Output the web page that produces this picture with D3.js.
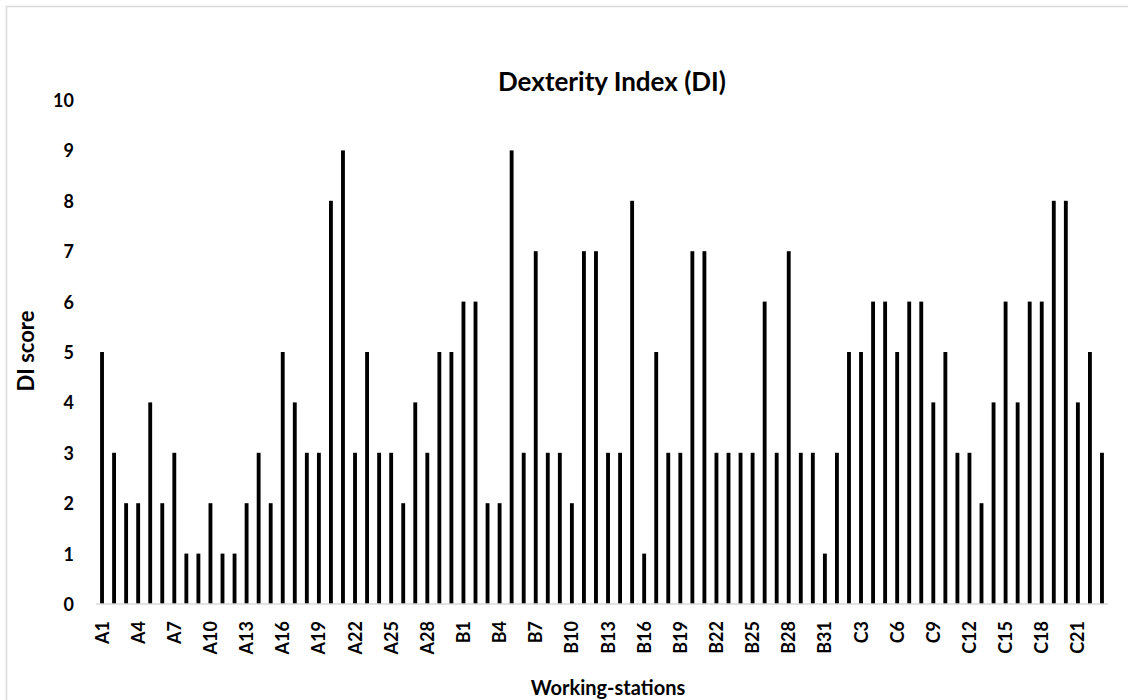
<!DOCTYPE html>
<html>
<head>
<meta charset="utf-8">
<script src="https://cdn.jsdelivr.net/npm/d3@7"></script>
<style>
  body { margin: 0; background: #fff; }
  text { font-family: Lato, "Open Sans", sans-serif; font-weight: bold; fill: #000; }
</style>
</head>
<body>
<svg id="chart" width="1128" height="700"></svg>
<script>
// stations per line
const groupA = d3.range(1, 31).map(i => "A" + i);
const groupB = d3.range(1, 32).map(i => "B" + i);
const groupC = d3.range(1, 24).map(i => "C" + i);
const stations = groupA.concat(groupB, groupC);

// DI score
const scoreA = [5, 3, 2, 2, 4, 2, 3, 1, 1, 2, 1, 1, 2, 3, 2, 5, 4, 3, 3, 8, 9, 3, 5, 3, 3, 2, 4, 3, 5, 5];
const scoreB = [6, 6, 2, 2, 9, 3, 7, 3, 3, 2, 7, 7, 3, 3, 8, 1, 5, 3, 3, 7, 7, 3, 3, 3, 3, 6, 3, 7, 3, 3, 1];
const scoreC = [3, 5, 5, 6, 6, 5, 6, 6, 4, 5, 3, 3, 2, 4, 6, 4, 6, 6, 8, 8, 4, 5, 3];
const scores = scoreA.concat(scoreB, scoreC);

const yTicks = [0, 1, 2, 3, 4, 5, 6, 7, 8, 9, 10];

const svg = d3.select("#chart");

// khung ngoai
svg.append("rect")
    .attr("x", 6.5).attr("y", 6.5)
    .attr("width", 1140).attr("height", 720)
    .attr("fill", "none")
    .attr("stroke", "#d9d9d9")
    .attr("stroke-width", 1.5);

const x = d3.scaleBand()
    .domain(stations)
    .range([96, 1108])
    .paddingInner(0.68)
    .paddingOuter(0.34);

const y = d3.scaleLinear()
    .domain([0, 10])
    .range([604, 100]);

// bars
svg.selectAll(".bar")
    .data(stations)
    .enter()
    .append("rect")
    .attr("class", "bar")
    .attr("x", d => x(d))
    .attr("width", x.bandwidth())
    .attr("y", (d, i) => y(scores[i]))
    .attr("height", (d, i) => y(0) - y(scores[i]))
    .attr("fill", "#000");

// y axis (labels only)
const yAxis = svg.append("g")
    .attr("transform", "translate(80,0)")
    .call(d3.axisLeft(y).tickValues(yTicks).tickSize(0).tickPadding(6));
yAxis.select(".domain").remove();
yAxis.selectAll("text")
    .style("font-size", "18px")
    .attr("dy", "0.36em");

// x axis
const xAxis = svg.append("g")
    .attr("transform", "translate(0," + y(0) + ")")
    .call(d3.axisBottom(x)
        .tickValues(stations.filter((d, i) => i % 3 === 0))
        .tickSize(0)
        .tickPadding(0));
xAxis.select(".domain")
    .attr("stroke", "#d9d9d9")
    .attr("stroke-width", 1.5)
    .attr("d", "M96,0H1108");
xAxis.selectAll("text")
    .style("font-size", "18px")
    .attr("transform", "rotate(-90)")
    .attr("text-anchor", "end")
    .attr("x", -17)
    .attr("y", 0)
    .attr("dy", "0.36em");

// titles
svg.append("text")
    .attr("x", 612).attr("y", 91)
    .attr("text-anchor", "middle")
    .style("font-size", "26px")
    .text("Dexterity Index (DI)");

svg.append("text")
    .attr("transform", "translate(34,351) rotate(-90)")
    .attr("text-anchor", "middle")
    .style("font-size", "22px")
    .text("DI score");

svg.append("text")
    .attr("x", 608).attr("y", 695)
    .attr("text-anchor", "middle")
    .style("font-size", "20px")
    .text("Working-stations");
</script>
</body>
</html>
